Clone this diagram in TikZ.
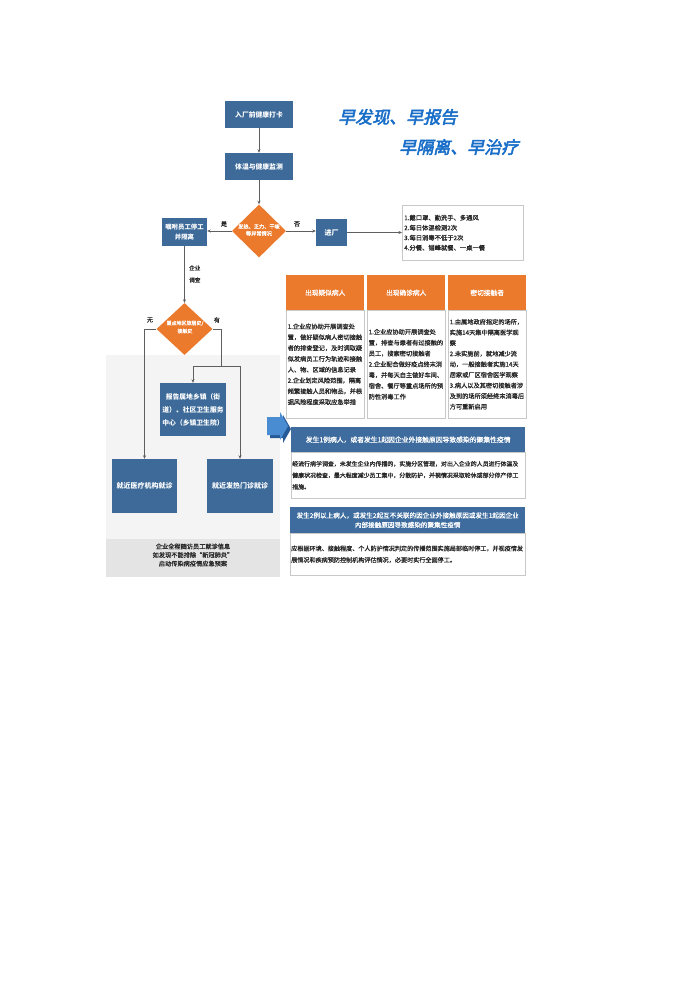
\documentclass[tikz,border=0pt]{standalone}
\usepackage{fontspec}
\setmainfont{Noto Sans CJK SC}
\newfontfamily\titlefont[FakeSlant=0.22,FakeBold=3]{Noto Sans CJK SC}
\newfontfamily\bodyfont[FakeBold=0.8]{Noto Sans CJK SC}
\usetikzlibrary{arrows.meta,shapes.geometric}
\definecolor{boxblue}{RGB}{61,106,153}
\definecolor{hdrblue}{RGB}{62,108,158}
\definecolor{orng}{RGB}{236,122,45}
\definecolor{ttlblue}{RGB}{24,110,200}
\definecolor{lnclr}{RGB}{95,95,95}
\definecolor{bgpale}{RGB}{244,244,244}
\definecolor{bgstrip}{RGB}{228,228,228}
\definecolor{bordgray}{RGB}{200,200,200}
\definecolor{arrlight}{RGB}{74,140,210}
\definecolor{arrdark}{RGB}{38,90,150}
\definecolor{txtdark}{RGB}{40,40,40}
\newcommand{\myfs}[2]{\fontsize{#1}{#2}\selectfont}
\begin{document}
\begin{tikzpicture}[x=1pt,y=-1pt,
  bbox/.style={fill=boxblue,text=white,inner sep=0pt,align=center,font=\bfseries\myfs{6.8}{9}},
  arr/.style={draw=lnclr,line width=0.7pt,-{Stealth[length=3.5pt,width=3pt]}},
  ln/.style={draw=lnclr,line width=0.7pt},
  dia/.style={diamond,fill=orng,inner sep=0pt},
  dtext/.style={text=white,align=center,inner sep=0pt},
  lbl/.style={font=\bodyfont\myfs{6}{7},text=txtdark,inner sep=0pt},
  colhead/.style={fill=orng,text=white,font=\bodyfont\myfs{6.7}{8},inner sep=0pt,anchor=north west,minimum width=78pt,minimum height=35pt},
  colbody/.style={draw=bordgray,fill=white,line width=0.5pt,inner sep=0pt,anchor=north west,minimum width=78pt,minimum height=108pt,text width=75pt,align=left,font=\bodyfont\myfs{6.2}{10.8},text=txtdark},
  rowhead/.style={fill=hdrblue,text=white,inner sep=0pt,align=center,anchor=north west},
  rowbody/.style={draw=bordgray,fill=white,line width=0.5pt,inner sep=0pt,anchor=north west,align=left,text=txtdark},
]
\path[use as bounding box,fill=white] (0,0) rectangle (700,990);

% left background
\fill[bgpale] (106,355) rectangle (280,539);
\fill[bgstrip] (106,539) rectangle (280,577);

% title
\node[anchor=west,font=\titlefont\myfs{17}{17},text=ttlblue,inner sep=0pt] (t1) at (338,117) {早发现、早报告};
\node[anchor=west,font=\titlefont\myfs{17}{17},text=ttlblue,inner sep=0pt] (t2) at (399,147) {早隔离、早治疗};

% flow nodes
\node[bbox,minimum width=68pt,minimum height=27pt] (n1) at (259,114.5) {入厂前健康打卡};
\node[bbox,minimum width=68pt,minimum height=27pt] (n2) at (259,166.5) {体温与健康监测};
\node[dia,minimum width=54pt,minimum height=53pt] (d1) at (259,231) {};
\node[dtext,font=\bodyfont\myfs{5.2}{7}] (d1t) at (259,230) {发热、乏力、干咳\\等异常情况};
\node[bbox,minimum width=45pt,minimum height=28pt,font=\bfseries\myfs{6.4}{10.5}] (n3) at (184.5,232) {嘱咐员工停工\\并隔离};
\node[bbox,minimum width=31pt,minimum height=27pt,font=\bfseries\myfs{7}{9}] (n4) at (331.5,232.5) {进厂};
\node[draw=bordgray,fill=white,line width=0.5pt,minimum width=121pt,minimum height=55pt,text width=117pt,align=left,font=\bodyfont\myfs{6.3}{10},inner sep=0pt,anchor=north west,text=txtdark] (tb) at (402,205) {1.戴口罩、勤洗手、多通风\\2.每日体温检测2次\\3.每日消毒不低于2次\\4.分餐、错峰就餐、一桌一餐};

\node[lbl] (lshi) at (224,224) {是};
\node[lbl] (lfou) at (297,224) {否};
\node[lbl,align=left,anchor=west,font=\bodyfont\myfs{5.6}{12}] (ldc) at (189,274) {企业\\调查};

\node[dia,minimum width=56pt,minimum height=52pt] (d2) at (184.5,329) {};
\node[dtext,font=\bodyfont\myfs{5}{8}] (d2t) at (185,327) {重点地区旅居史/\\接触史};
\node[lbl] (lwu) at (150,320) {无};
\node[lbl] (lyou) at (217,320) {有};

\node[bbox,minimum width=66pt,minimum height=53pt,font=\bfseries\myfs{6.8}{13}] (n5) at (193,409.5) {报告属地乡镇（街\\道）、社区卫生服务\\中心（乡镇卫生院）};
\node[bbox,minimum width=65pt,minimum height=54pt,font=\bfseries\myfs{7}{9}] (n6) at (144.5,486) {就近医疗机构就诊};
\node[bbox,minimum width=66pt,minimum height=54pt,font=\bfseries\myfs{7}{9}] (n7) at (240,486) {就近发热门诊就诊};
\node[align=center,font=\bodyfont\myfs{6.2}{8.6},inner sep=0pt,text=txtdark] (bs) at (193,555) {企业全程随访员工就诊信息\\如发现不能排除“新冠肺炎”\\启动传染病疫情应急预案};

\coordinate (jn) at (221,366);

% connectors
\draw[arr] (n1) -- (n2);
\draw[arr] (n2) -- (d1);
\draw[arr] (d1.west) -- (n3.east |- d1.west);
\draw[arr] (d1.east) -- (n4.west |- d1.east);
\draw[arr] (n4.east) -- (tb.west |- n4.east);
\draw[arr] (n3) -- (d2);
\draw[arr] (d2.west) -| (n6.north);
\draw[ln] (d2.east) -| (jn);
\draw[arr] (jn) -| (n5.north);
\draw[arr] (jn) -| (n7.north);

% chevron
\fill[arrdark] (270,420) -- (283,420) -- (283,415) -- (291,429) -- (283,443) -- (283,438) -- (270,438) -- cycle;
\fill[arrlight] (267,417) -- (280,417) -- (280,412) -- (288,426) -- (280,440) -- (280,435) -- (267,435) -- cycle;

% columns
\node[colhead] (h1) at (286,275) {出现疑似病人};
\node[colhead] (h2) at (367,275) {出现确诊病人};
\node[colhead] (h3) at (448,275) {密切接触者};
\node[colbody] (b1) at (286,310) {1.企业应协助开展调查处\\置，做好疑似病人密切接触\\者的排查登记，及时调取疑\\似发病员工行为轨迹和接触\\人、物、区域的信息记录\\2.企业划定风险范围，隔离\\频繁接触人员和物品，并根\\据风险程度采取应急举措};
\node[colbody] (b2) at (367,310) {1.企业应协助开展调查处\\置，排查与患者有过接触的\\员工，搜索密切接触者\\2.企业配合做好疫点终末消\\毒，并每天自主做好车间、\\宿舍、餐厅等重点场所的预\\防性消毒工作};
\node[colbody,font=\bodyfont\myfs{6.2}{10.6}] (b3) at (448,310) {1.由属地政府指定的场所，\\实施14天集中隔离医学观\\察\\2.未实施前，就地减少流\\动，一般接触者实施14天\\居家或厂区宿舍医学观察\\3.病人以及其密切接触者涉\\及到的场所须经终末消毒后\\方可重新启用};

% rows
\node[rowhead,minimum width=234pt,minimum height=25pt,font=\bodyfont\myfs{6.8}{9}] (r1h) at (291,427) {发生1例病人，或者发生1起因企业外接触原因导致感染的聚集性疫情};
\node[rowbody,minimum width=234pt,minimum height=46pt,text width=232pt,font=\bodyfont\myfs{5.95}{11.5}] (r1b) at (291,452) {经流行病学调查，未发生企业内传播的，实施分区管理，对出入企业的人员进行体温及\\健康状况检查，最大程度减少员工集中，分散防护，并视情况采取轮休或部分停产停工\\措施。};
\node[rowhead,minimum width=235pt,minimum height=26pt,font=\bodyfont\myfs{6.6}{9.5}] (r2h) at (290,507) {发生2例以上病人，或发生2起互不关联的因企业外接触原因或发生1起因企业\\内部接触原因导致感染的聚集性疫情};
\node[rowbody,minimum width=235pt,minimum height=42pt,text width=233pt,font=\bodyfont\myfs{6.1}{11.5}] (r2b) at (290,533) {应根据环境、接触程度、个人防护情况判定的传播范围实施局部临时停工，并视疫情发\\展情况和疾病预防控制机构评估情况，必要时实行全面停工。};
\end{tikzpicture}
\end{document}
